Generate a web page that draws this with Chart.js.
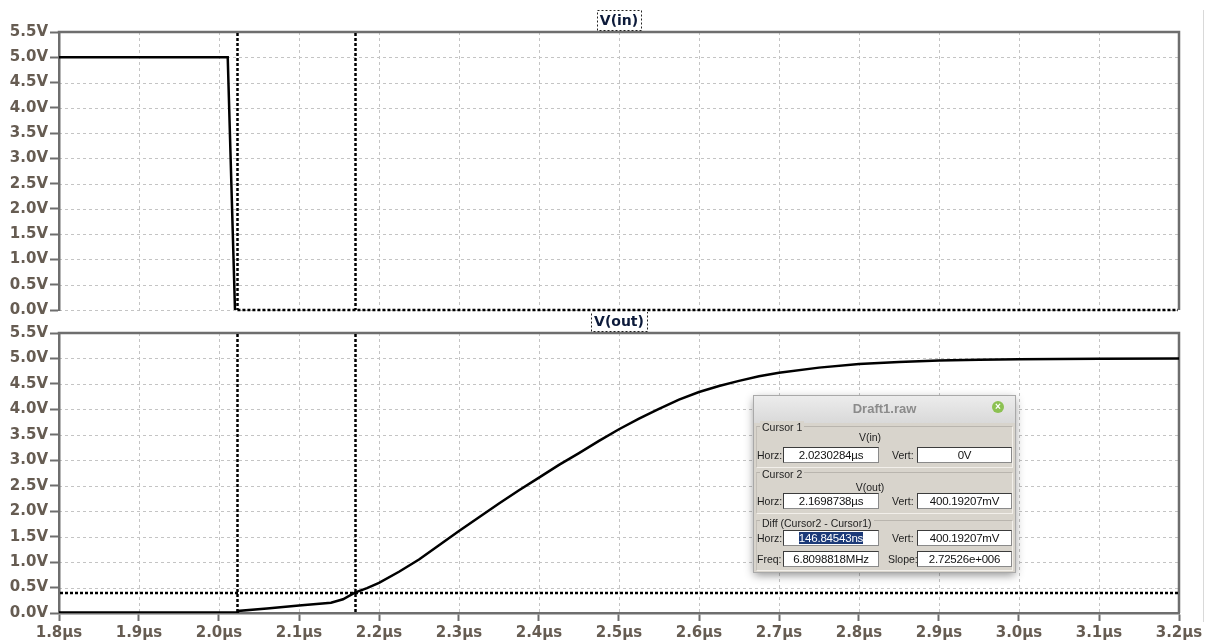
<!DOCTYPE html>
<html>
<head>
<meta charset="utf-8">
<title>V(in) / V(out)</title>
<script src="https://cdn.jsdelivr.net/npm/chart.js@4.4.1/dist/chart.umd.min.js"></script>
<style>
  html, body { margin: 0; padding: 0; background: #fff; }
  #stage { position: relative; width: 1210px; height: 644px; overflow: hidden; background: #fff; }
  canvas { position: absolute; left: 0; }
  #topScope { top: 0; }
  #bottomScope { top: 312px; }
  #edge { position: absolute; left: 1203px; top: 10px; width: 1px; height: 612px; background: #d9d9d9; }

  #cursorPanel {
    position: absolute; left: 754px; top: 396px; width: 261px; height: 176px;
    background: #d8d4cc;
    box-shadow: 0 0 0 1px #a9a9a9, 0 3px 9px rgba(0,0,0,0.45);
    font-family: "Liberation Sans", Arial, sans-serif; color: #1e1e1e;
  }
  #cursorPanel .bar {
    position: absolute; left: 0; top: 0; width: 261px; height: 27px;
    background: linear-gradient(#ececec, #d9d9d9);
    text-align: center; line-height: 26px; font-weight: bold; font-size: 13px; color: #8b8b8b;
  }
  #cursorPanel .close {
    position: absolute; left: 238px; top: 5px; width: 12px; height: 12px; border-radius: 50%;
    background: #8cc152; color: #fff; font-size: 10px; line-height: 12px; text-align: center; font-weight: bold;
  }
  #cursorPanel .group {
    position: absolute; left: 2px; width: 255px;
    border: 1px solid #f2efea; border-top-color: #b9b5ae; border-left-color: #c3bfb8;
  }
  #cursorPanel .lbl { position: absolute; font-size: 10.5px; line-height: 12px; white-space: nowrap; }
  #cursorPanel .legend { background: #d8d4cc; padding: 0 2px; }
  #cursorPanel .sig { text-align: center; width: 100px; }
  #cursorPanel .box {
    position: absolute; height: 14px; background: #fff;
    border: 1px solid #3c3c3c; border-right-color: #8a8a8a; border-bottom-color: #8a8a8a;
    font-size: 11.5px; line-height: 14px; text-align: center; white-space: nowrap; color: #111;
    letter-spacing: -0.2px;
  }
  #cursorPanel .sel { background: #1c3a78; color: #fff; }
</style>
</head>
<body>
<div id="stage">
  <canvas id="topScope" width="1210" height="321"></canvas>
  <canvas id="bottomScope" width="1210" height="332"></canvas>
  <div id="edge"></div>

  <div id="cursorPanel">
    <div class="bar">Draft1.raw</div>
    <div class="close">×</div>

    <div class="group" style="top:30px;height:40px;"></div>
    <div class="lbl legend" style="left:6px;top:25px;">Cursor 1</div>
    <div class="lbl sig" style="left:66px;top:35px;">V(in)</div>
    <div class="lbl" style="left:3px;top:53px;">Horz:</div>
    <div class="box" style="left:29px;top:51px;width:94px;">2.0230284µs</div>
    <div class="lbl" style="left:138px;top:53px;">Vert:</div>
    <div class="box" style="left:163px;top:51px;width:93px;">0V</div>

    <div class="group" style="top:76px;height:40px;"></div>
    <div class="lbl legend" style="left:6px;top:72px;">Cursor 2</div>
    <div class="lbl sig" style="left:66px;top:85px;">V(out)</div>
    <div class="lbl" style="left:3px;top:99px;">Horz:</div>
    <div class="box" style="left:29px;top:97px;width:94px;">2.1698738µs</div>
    <div class="lbl" style="left:138px;top:99px;">Vert:</div>
    <div class="box" style="left:163px;top:97px;width:93px;">400.19207mV</div>

    <div class="group" style="top:124px;height:49px;"></div>
    <div class="lbl legend" style="left:6px;top:121px;">Diff (Cursor2 - Cursor1)</div>
    <div class="lbl" style="left:3px;top:136px;">Horz:</div>
    <div class="box" style="left:29px;top:134px;width:94px;"><span class="sel">146.84543ns</span></div>
    <div class="lbl" style="left:138px;top:136px;">Vert:</div>
    <div class="box" style="left:163px;top:134px;width:93px;">400.19207mV</div>
    <div class="lbl" style="left:3px;top:157px;">Freq:</div>
    <div class="box" style="left:29px;top:155px;width:94px;">6.8098818MHz</div>
    <div class="lbl" style="left:134px;top:157px;">Slope:</div>
    <div class="box" style="left:163px;top:155px;width:93px;">2.72526e+006</div>
  </div>
</div>

<script>
// Time axis (µs) and voltage axis tick values with their labels
const timeTickValues = [1.8, 1.9, 2.0, 2.1, 2.2, 2.3, 2.4, 2.5, 2.6, 2.7, 2.8, 2.9, 3.0, 3.1, 3.2];
const timeTickLabels = ['1.8µs', '1.9µs', '2.0µs', '2.1µs', '2.2µs', '2.3µs', '2.4µs', '2.5µs',
                        '2.6µs', '2.7µs', '2.8µs', '2.9µs', '3.0µs', '3.1µs', '3.2µs'];
const voltTickValues = [0, 0.5, 1.0, 1.5, 2.0, 2.5, 3.0, 3.5, 4.0, 4.5, 5.0, 5.5];
const voltTickLabels = ['0.0V', '0.5V', '1.0V', '1.5V', '2.0V', '2.5V', '3.0V', '3.5V',
                        '4.0V', '4.5V', '5.0V', '5.5V'];

// Input step: V(in)
const vinTime = [1.8, 2.0109, 2.0200];
const vinVolt = [5.0, 5.0, 0.0];

// Output response: V(out)
const voutTime = [1.8, 2.0228, 2.0236, 2.06, 2.10, 2.14, 2.155, 2.1698738, 2.185, 2.20, 2.225,
                  2.25, 2.275, 2.30, 2.325, 2.35, 2.375, 2.40, 2.425, 2.45, 2.475, 2.50, 2.525,
                  2.55, 2.575, 2.60, 2.625, 2.65, 2.675, 2.70, 2.75, 2.80, 2.85, 2.90, 2.95,
                  3.00, 3.10, 3.20];
const voutVolt = [0.01, 0.01, 0.04, 0.09, 0.145, 0.20, 0.27, 0.40019207, 0.49, 0.59, 0.81,
                  1.05, 1.33, 1.61, 1.88, 2.15, 2.41, 2.66, 2.91, 3.14, 3.38, 3.61, 3.82,
                  4.01, 4.19, 4.34, 4.46, 4.56, 4.65, 4.72, 4.82, 4.89, 4.93, 4.96, 4.975,
                  4.985, 4.995, 5.0];

// Cursor readings
const cursor1Time = 2.0230284, cursor1Volt = 0;          // on V(in)
const cursor2Time = 2.1698738, cursor2Volt = 0.40019207; // on V(out)

const AXIS_GRAY = '#6e6e6e';
const GRID_GRAY = '#c4c4c4';
const TICK_TEXT = '#665c52';
const TICK_FONT = { family: 'DejaVu Sans', size: 15, weight: 'bold' };

const toPoints = (xs, ys) => xs.map((x, i) => ({ x, y: ys[i] }));

// Dashed grid, frame, cursors and the boxed trace title
const scopeDecor = {
  id: 'scopeDecor',
  beforeDraw(chart, args, o) {
    const { ctx, chartArea: a, scales: { x, y } } = chart;
    ctx.save();
    ctx.strokeStyle = GRID_GRAY;
    ctx.lineWidth = 1;
    ctx.setLineDash([3, 3]);
    for (const t of x.ticks) {
      const px = Math.round(x.getPixelForValue(t.value)) + 0.5;
      if (px < a.left + 2 || px > a.right - 2) continue;
      ctx.beginPath();
      ctx.moveTo(px, a.top);
      ctx.lineTo(px, a.bottom);
      ctx.stroke();
    }
    for (const t of y.ticks) {
      const py = Math.round(y.getPixelForValue(t.value)) + 0.5;
      if (py < a.top + 2) continue;
      if (o.hasTimeAxis && py > a.bottom - 2) continue;
      ctx.beginPath();
      ctx.moveTo(a.left, py);
      ctx.lineTo(a.right, py);
      ctx.stroke();
    }
    ctx.restore();
  },
  beforeDatasetsDraw(chart) {
    const { ctx, chartArea: a } = chart;
    ctx.save();
    ctx.strokeStyle = AXIS_GRAY;
    ctx.lineWidth = 2.5;
    ctx.beginPath();
    ctx.moveTo(a.left - 1.25, a.top);
    ctx.lineTo(a.right, a.top);
    ctx.lineTo(a.right, a.bottom);
    ctx.stroke();
    ctx.restore();
  },
  afterDatasetsDraw(chart, args, o) {
    const { ctx, chartArea: a, scales: { x, y } } = chart;
    ctx.save();
    ctx.strokeStyle = '#000';
    ctx.lineWidth = 2.5;
    ctx.setLineDash([3, 2]);
    for (const t of o.cursorTimes) {
      const px = Math.round(x.getPixelForValue(t)) + 0.5;
      ctx.beginPath();
      ctx.moveTo(px, a.top + 1);
      ctx.lineTo(px, a.bottom);
      ctx.stroke();
    }
    const py = Math.round(y.getPixelForValue(o.levelValue));
    const fromX = o.levelFrom == null ? a.left + 1 : x.getPixelForValue(o.levelFrom);
    ctx.beginPath();
    ctx.moveTo(fromX, py);
    ctx.lineTo(a.right - 1, py);
    ctx.stroke();

    // trace name above the plot
    ctx.setLineDash([]);
    ctx.font = 'bold 14px "DejaVu Sans"';
    ctx.fillStyle = '#0c1a3a';
    ctx.textAlign = 'center';
    ctx.textBaseline = 'middle';
    const cx = (a.left + a.right) / 2;
    const w = ctx.measureText(o.title).width + 6;
    ctx.fillText(o.title, cx, a.top - 11);
    ctx.strokeStyle = '#222';
    ctx.lineWidth = 1;
    ctx.setLineDash([2, 2]);
    ctx.strokeRect(Math.round(cx - w / 2) + 0.5, a.top - 21.5, Math.round(w), 20);
    ctx.restore();
  }
};

function makeScope(canvasId, series, opts) {
  return new Chart(document.getElementById(canvasId), {
    type: 'line',
    data: {
      datasets: [{
        data: series,
        borderColor: '#000',
        borderWidth: 2.5,
        pointRadius: 0,
        tension: 0,
        fill: false
      }]
    },
    options: {
      responsive: false,
      animation: false,
      devicePixelRatio: 1,
      events: [],
      layout: { padding: opts.padding },
      plugins: {
        legend: { display: false },
        tooltip: { enabled: false },
        scopeDecor: opts.decor
      },
      scales: {
        x: {
          type: 'linear',
          min: 1.8, max: 3.2,
          afterBuildTicks: s => { s.ticks = timeTickValues.map(v => ({ value: v })); },
          afterFit: s => { s.height = opts.xHeight; },
          border: { display: opts.showTimeAxis, color: AXIS_GRAY, width: 2.5, z: -1 },
          grid: {
            z: -2,
            drawOnChartArea: false,
            drawTicks: opts.showTimeAxis, tickLength: 8,
            tickColor: AXIS_GRAY, tickWidth: 2
          },
          ticks: {
            display: opts.showTimeAxis,
            autoSkip: false, maxRotation: 0, padding: 3,
            color: TICK_TEXT, font: TICK_FONT,
            callback: (v, i) => timeTickLabels[i]
          }
        },
        y: {
          type: 'linear',
          min: 0, max: 5.5,
          afterBuildTicks: s => { s.ticks = voltTickValues.map(v => ({ value: v })); },
          afterFit: s => { s.width = 59; },
          border: { display: true, color: AXIS_GRAY, width: 2.5, z: -1 },
          grid: {
            z: -2,
            drawOnChartArea: false,
            drawTicks: true, tickLength: 9,
            tickColor: AXIS_GRAY, tickWidth: 2
          },
          ticks: {
            autoSkip: false, padding: 2,
            color: TICK_TEXT, font: TICK_FONT,
            callback: (v, i) => voltTickLabels[i]
          }
        }
      }
    },
    plugins: [scopeDecor]
  });
}

makeScope('topScope', toPoints(vinTime, vinVolt), {
  padding: { top: 32, right: 31, bottom: 10, left: 0 },
  xHeight: 0,
  showTimeAxis: false,
  decor: { title: 'V(in)', hasTimeAxis: false, cursorTimes: [cursor1Time, cursor2Time],
           levelValue: cursor1Volt, levelFrom: cursor1Time }
});

makeScope('bottomScope', toPoints(voutTime, voutVolt), {
  padding: { top: 21, right: 31, bottom: 0, left: 0 },
  xHeight: 31,
  showTimeAxis: true,
  decor: { title: 'V(out)', hasTimeAxis: true, cursorTimes: [cursor1Time, cursor2Time],
           levelValue: cursor2Volt, levelFrom: null }
});
</script>
</body>
</html>
